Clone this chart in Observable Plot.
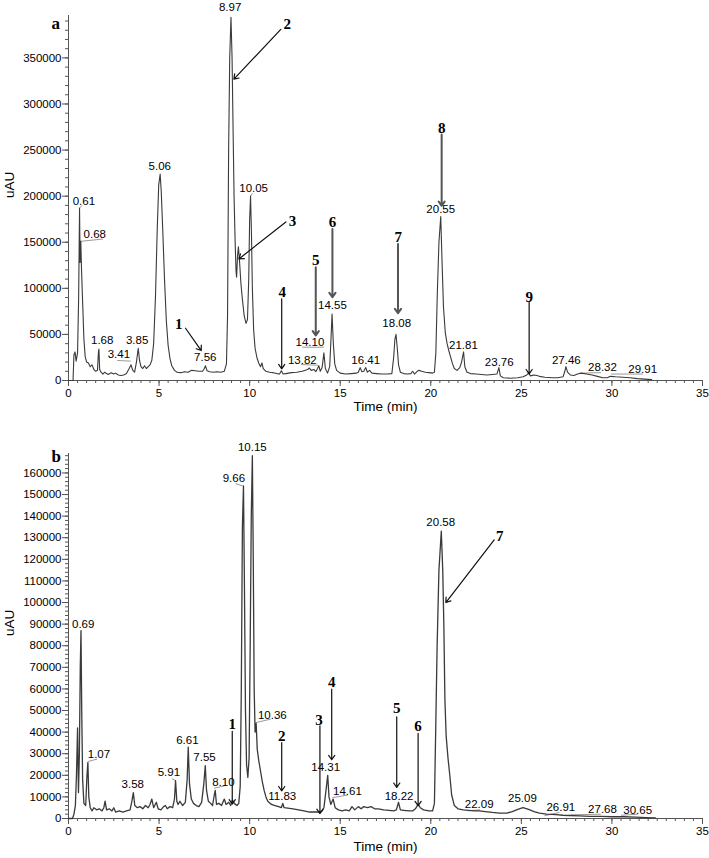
<!DOCTYPE html>
<html><head><meta charset="utf-8">
<script src="https://cdn.jsdelivr.net/npm/d3@7"></script>
<script src="https://cdn.jsdelivr.net/npm/@observablehq/plot@0.6"></script>
<style>body{margin:0;background:#fff} svg{display:block}</style>
</head><body><div id="chart"></div>
<script>
// ---------- Panel a : chromatogram ----------
const timeA = [0,0.25,0.3,0.36,0.42,0.5,0.56,0.61,0.64,0.68,0.72,0.78,0.85,0.92,1.0,1.1,1.2,1.3,1.4,1.5,1.6,1.65,1.68,1.72,1.8,1.9,2.0,2.1,2.2,2.35,2.5,2.6,2.75,2.9,3.05,3.2,3.35,3.45,3.55,3.65,3.75,3.85,3.92,4.0,4.1,4.2,4.3,4.4,4.5,4.6,4.7,4.8,4.9,4.98,5.06,5.12,5.2,5.3,5.4,5.5,5.6,5.7,5.85,6.0,6.2,6.4,6.6,6.8,7.0,7.2,7.4,7.5,7.56,7.65,7.8,8.0,8.2,8.4,8.6,8.72,8.78,8.84,8.9,8.97,9.03,9.08,9.14,9.2,9.25,9.28,9.33,9.38,9.44,9.52,9.6,9.7,9.8,9.88,9.95,10.0,10.05,10.1,10.15,10.22,10.3,10.4,10.5,10.6,10.68,10.75,10.9,11.1,11.3,11.5,11.65,11.75,11.85,12.0,12.3,12.6,12.9,13.2,13.3,13.4,13.55,13.65,13.75,13.82,13.9,14.0,14.1,14.18,14.3,14.42,14.49,14.55,14.62,14.7,14.8,15.0,15.3,15.6,15.9,16.0,16.1,16.2,16.3,16.41,16.5,16.62,16.75,17.0,17.3,17.6,17.85,17.95,18.02,18.08,18.15,18.22,18.32,18.5,18.7,18.9,19.0,19.1,19.25,19.35,19.5,19.7,19.9,20.1,20.2,20.28,20.36,20.45,20.55,20.62,20.7,20.8,20.9,21.0,21.1,21.2,21.3,21.45,21.6,21.7,21.81,21.88,22.0,22.2,22.5,22.8,23.1,23.4,23.65,23.76,23.84,24.0,24.4,24.8,25.1,25.3,25.4,25.5,25.7,25.85,26.0,26.3,26.7,27.0,27.3,27.4,27.46,27.55,27.7,27.9,28.1,28.3,28.6,28.9,29.2,29.5,29.75,29.91,30.2,30.6,31.0,31.4,31.8,32.2];
const signalA = [0,0,28000,31000,21000,30000,90000,187000,128000,151000,120000,85000,45000,26000,20000,19000,15000,17000,12000,10000,11000,30000,34000,12000,9000,7000,9000,7500,6500,8500,7000,8000,6000,5500,6000,7500,13000,17000,11000,9000,20000,35000,22000,15000,13000,16000,13000,15000,17000,22000,40000,90000,165000,212000,224000,205000,165000,110000,65000,38000,24000,16000,11000,9000,8500,9500,9000,11000,10500,10000,10000,13000,16000,10500,9500,9000,9500,9000,10000,18000,70000,250000,350000,394000,350000,280000,200000,150000,118000,112000,135000,145000,130000,105000,88000,70000,62000,66000,110000,175000,200000,160000,100000,55000,35000,25000,19000,15000,19000,13000,10000,9000,8500,7500,7000,10500,7000,7500,8500,9000,10000,12000,13500,11000,12000,9500,13000,16000,10000,14000,30000,13000,8000,15000,45000,72000,40000,18000,11000,8000,7000,7500,8000,9000,14000,9500,10000,14000,9000,11000,8000,7500,7000,7000,7500,25000,45000,50000,35000,17000,9000,7500,7000,7500,10000,7000,10000,11000,10000,9000,8500,8000,9000,30000,94000,150000,178000,130000,80000,52000,40000,32000,25000,18000,13000,11000,14000,20000,31000,15000,9000,7500,7000,6500,6000,6500,7000,14000,5000,3000,2500,3000,4000,6000,8000,5000,6000,5500,4500,3500,3000,3000,4000,10000,15000,9000,6000,5500,7000,8000,7000,6000,4500,3000,3000,4500,4000,3500,3000,2000,1500,1000];

const peakLabelsA = ["0.61","0.68","1.68","3.41","3.85","5.06","7.56","8.97","10.05","13.82","14.10","14.55","16.41","18.08","20.55","21.81","23.76","27.46","28.32","29.91"];
const peakLabelXA = [0.85,1.45,1.86,2.78,3.79,5.04,7.55,8.92,10.22,12.91,13.33,14.57,16.41,18.12,20.55,21.8,23.78,27.48,29.48,31.7];
const peakLabelYA = [194000,159000,43300,28200,44100,232200,25300,405300,208800,22400,41500,82000,22400,62100,186000,37900,19800,22400,14400,12600];

const leaderX1A = [0.61,0.66,2.69,10.05,12.82,12.9,28.29,29.94];
const leaderY1A = [187000,151000,21700,200000,17300,36100,8000,7000];
const leaderX2A = [0.75,1.9,3.43,10.15,13.8,14.1,29.4,31.7];
const leaderY2A = [190000,153500,21000,203000,16500,36100,8500,7000];

const compoundA = ["1","2","3","4","5","6","7","8","9"];
const compoundXA = [6.09,12.08,12.36,11.8,13.65,14.57,18.2,20.6,25.43];
const compoundYA = [60700,386500,172600,95700,130800,171600,155300,273800,90300];
const arrowFromXA = [6.46,11.72,12.0,11.77,13.65,14.57,18.19,20.6,25.43];
const arrowFromYA = [56700,381000,172000,88500,122800,164400,148000,267000,84900];
const arrowToXA = [7.33,9.13,9.41,11.77,13.65,14.57,18.19,20.6,25.43];
const arrowToYA = [32500,327000,131900,12700,48800,90300,73000,189500,7200];

// ---------- Panel b : chromatogram ----------
const timeB = [0,0.22,0.3,0.38,0.44,0.5,0.55,0.6,0.65,0.69,0.73,0.78,0.85,0.95,1.02,1.07,1.12,1.2,1.3,1.4,1.55,1.7,1.85,1.95,2.02,2.1,2.25,2.4,2.5,2.6,2.8,3.0,3.2,3.4,3.5,3.58,3.66,3.8,3.95,4.1,4.25,4.4,4.5,4.6,4.7,4.85,4.95,5.1,5.25,5.35,5.45,5.6,5.75,5.85,5.91,5.98,6.05,6.15,6.3,6.45,6.55,6.61,6.68,6.78,6.9,7.05,7.2,7.35,7.47,7.55,7.62,7.72,7.85,7.95,8.05,8.1,8.17,8.3,8.45,8.6,8.7,8.85,8.95,9.05,9.15,9.3,9.4,9.48,9.54,9.6,9.66,9.71,9.77,9.83,9.9,9.97,10.03,10.09,10.15,10.2,10.25,10.3,10.36,10.42,10.5,10.6,10.7,10.8,10.9,11.0,11.2,11.4,11.6,11.75,11.83,11.9,12.1,12.4,12.7,13.0,13.3,13.6,13.85,14.0,14.1,14.2,14.31,14.38,14.48,14.61,14.72,14.9,15.1,15.3,15.5,15.65,15.8,16.0,16.15,16.3,16.5,16.7,16.9,17.1,17.4,17.7,17.95,18.1,18.22,18.32,18.5,18.8,19.0,19.15,19.3,19.42,19.6,19.9,20.1,20.2,20.27,20.35,20.45,20.58,20.66,20.72,20.78,20.85,20.95,21.05,21.15,21.3,21.5,21.8,22.09,22.4,22.7,23.0,23.4,23.8,24.2,24.5,24.8,25.09,25.4,25.7,26.0,26.4,26.91,27.3,27.68,28.2,28.8,29.4,30.0,30.65,31.3,31.9,32.4];
const signalB = [0,0,2000,6000,20000,42000,12000,30000,70000,87000,50000,18000,7000,6000,20000,26000,10000,5000,3500,5000,4000,4500,3500,5000,8000,4000,4500,3500,5000,3000,3500,3000,3500,4000,8000,12000,6000,5000,5500,4500,6000,5000,6500,9000,5000,7500,4500,4000,5500,6000,4500,5500,5000,9000,17500,8000,6500,8000,6000,7500,18000,33000,16000,9000,7000,6000,5500,7500,16000,24500,13000,8000,7000,6000,11000,13000,6500,7000,6000,9000,6500,7500,6000,8500,7000,6000,7000,15000,60000,135000,154000,110000,50000,25000,19000,28000,80000,140000,168000,120000,60000,40000,44000,32000,27000,22000,17000,13000,10000,8000,6500,6000,5500,5000,7000,5000,4800,4500,4000,3500,3000,3000,3000,3500,5000,12000,20000,10000,6500,9000,5000,4000,3500,4000,3500,5500,4000,5500,4500,5500,5000,5500,4500,4500,4000,3800,3500,4000,7500,4000,3800,3500,3500,4500,6500,5000,4000,3500,3500,7000,40000,80000,115000,133000,115000,90000,55000,38000,28000,20000,11000,6000,4500,4000,3800,3500,3500,3200,2800,2500,2500,3200,4200,5000,4200,3200,2500,2000,1800,1500,1400,1200,1000,1000,800,800,600,400,300];

const peakLabelsB = ["0.69","1.07","3.58","5.91","6.61","7.55","8.10","9.66","10.15","10.36","11.83","14.31","14.61","18.22","20.58","22.09","25.09","26.91","27.68","30.65"];
const peakLabelXB = [0.81,1.68,3.55,5.54,6.56,7.51,8.55,9.13,10.15,11.25,11.8,14.2,15.4,18.25,20.55,22.67,25.06,27.18,29.48,31.42];
const peakLabelYB = [90000,29500,15600,21300,36400,28200,16700,157600,172000,48000,10500,23900,12800,10200,137000,6700,9300,5100,4300,3900];

const leaderX1B = [1.09,5.7,8.03,9.23,10.33,14.57,22.03,26.27,27.73,30.5];
const leaderY1B = [26400,18500,14000,155000,44400,9700,3600,1250,1700,1500];
const leaderX2B = [1.58,5.91,8.62,9.62,11.16,15.4,22.72,27.1,29.39,31.42];
const leaderY2B = [27500,17500,15100,154000,46000,10800,4000,2800,2000,2000];

const compoundB = ["1","2","3","4","5","6","7"];
const compoundXB = [9.04,11.77,13.83,14.53,18.12,19.3,23.81];
const compoundYB = [43700,38300,45700,63000,50900,42600,130900];
const arrowFromXB = [9.04,11.77,13.88,14.53,18.12,19.3,23.5];
const arrowFromYB = [40300,35200,42900,59900,47100,39400,129000];
const arrowToXB = [9.04,11.77,13.88,14.53,18.12,19.3,20.83];
const arrowToYB = [6700,12800,2300,27200,14400,5900,100000];

// axis ticks
const xMajor = [0,5,10,15,20,25,30,35];
const xMinor = d3.range(0, 35.001, 0.5);
const yMajorA = [0,50000,100000,150000,200000,250000,300000,350000];
const yMinorA = d3.range(0, 396000, 10000);
const yMajorB = d3.range(0, 160001, 10000);
const yMinorB = d3.range(0, 169000, 2000);

const SANS = "'Liberation Sans', Arial, sans-serif";
const SERIF = "'Liberation Serif', 'Times New Roman', serif";

function panel(cfg) {
  const trace = cfg.time.map((t, i) => ({t, v: cfg.signal[i]}));
  const labels = cfg.labels.map((s, i) => ({s, x: cfg.labelX[i], y: cfg.labelY[i]}));
  const leaders = cfg.lx1.map((d, i) => ({x1: d, y1: cfg.ly1[i], x2: cfg.lx2[i], y2: cfg.ly2[i]}));
  const arrows = cfg.names.map((s, i) => ({s, nx: cfg.nameX[i], ny: cfg.nameY[i],
    x1: cfg.ax1[i], y1: cfg.ay1[i], x2: cfg.ax2[i], y2: cfg.ay2[i]}));
  const fmt = d3.format("d");
  return Plot.plot({
    width: 709, height: cfg.height,
    marginTop: cfg.mt, marginBottom: cfg.mb, marginLeft: 68, marginRight: 7,
    style: {fontFamily: SANS, fontSize: "11.5px", color: "#000", background: "#fff"},
    x: {domain: [0, 35], label: null},
    y: {domain: [0, cfg.ymax], label: null},
    marks: [
      Plot.axisY(cfg.yMinor, {tickSize: 3, tickFormat: () => "", stroke: "#555", label: null}),
      Plot.axisY(cfg.yMajor, {tickSize: 6, tickPadding: 1, tickFormat: fmt, stroke: "#555", fill: "#000", label: null}),
      Plot.axisX(xMinor, {tickSize: 3, tickFormat: () => "", stroke: "#555", label: null}),
      Plot.axisX(xMajor, {tickSize: 6, tickPadding: 2, tickFormat: fmt, stroke: "#555", fill: "#000", label: null}),
      Plot.ruleX([0], {stroke: "#555"}),
      Plot.ruleY([0], {stroke: "#555"}),
      Plot.link(leaders, {x1: "x1", y1: "y1", x2: "x2", y2: "y2", stroke: "#9a9a9a", strokeWidth: 1}),
      Plot.line(trace, {x: "t", y: "v", stroke: "#3a3a3a", strokeWidth: cfg.lw}),
      Plot.text(labels, {x: "x", y: "y", text: "s", fill: "#000", fontSize: 11.5, fontFamily: SANS}),
      Plot.arrow(arrows, {x1: "x1", y1: "y1", x2: "x2", y2: "y2",
        stroke: d => (d.x1 === d.x2 && cfg.thick.includes(d.s)) ? "#555" : "#111",
        strokeWidth: d => (d.x1 === d.x2 && cfg.thick.includes(d.s)) ? 2 : 1.2,
        headLength: 8, headAngle: 70}),
      Plot.text(arrows, {x: "nx", y: "ny", text: "s", fontFamily: SERIF, fontWeight: "bold", fontSize: 15, fill: "#000"}),
      Plot.text([cfg.tag], {text: d => d, frameAnchor: "top-left", dx: -17, dy: cfg.tagDy, fontFamily: SERIF, fontWeight: "bold", fontSize: 17, fill: "#000"}),
      Plot.text(["uAU"], {text: d => d, frameAnchor: "left", dx: -59, rotate: -90, fontSize: 13.5, fontFamily: SANS, fill: "#000"}),
      Plot.text(["Time (min)"], {text: d => d, frameAnchor: "bottom", dy: cfg.timeDy, fontSize: 13.5, fontFamily: SANS, fill: "#000"})
    ]
  });
}

const chart = document.getElementById("chart");
chart.append(panel({
  height: 430, mt: 15, mb: 50, ymax: 396000, lw: 1.1, tag: "a", tagDy: 1, timeDy: 30,
  time: timeA, signal: signalA, labels: peakLabelsA, labelX: peakLabelXA, labelY: peakLabelYA,
  lx1: leaderX1A, ly1: leaderY1A, lx2: leaderX2A, ly2: leaderY2A,
  names: compoundA, nameX: compoundXA, nameY: compoundYA,
  ax1: arrowFromXA, ay1: arrowFromYA, ax2: arrowToXA, ay2: arrowToYA,
  yMajor: yMajorA, yMinor: yMinorA, thick: ["5","6","7","8"]
}));
chart.append(panel({
  height: 428, mt: 23, mb: 40, ymax: 169000, lw: 1.3, tag: "b", tagDy: -4, timeDy: 32,
  time: timeB, signal: signalB, labels: peakLabelsB, labelX: peakLabelXB, labelY: peakLabelYB,
  lx1: leaderX1B, ly1: leaderY1B, lx2: leaderX2B, ly2: leaderY2B,
  names: compoundB, nameX: compoundXB, nameY: compoundYB,
  ax1: arrowFromXB, ay1: arrowFromYB, ax2: arrowToXB, ay2: arrowToYB,
  yMajor: yMajorB, yMinor: yMinorB, thick: []
}));
</script></body></html>
